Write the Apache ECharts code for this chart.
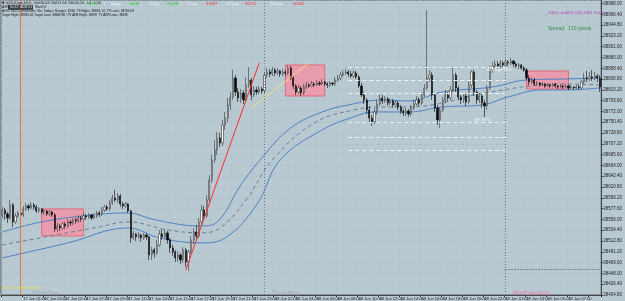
<!DOCTYPE html>
<html>
<head>
<meta charset="UTF-8">
<title>US30Cash,M15</title>
<script src="https://cdn.jsdelivr.net/npm/echarts@6/dist/echarts.min.js"></script>
<style>
    body{margin:0;padding:0;background:#b9c9d2;}
    #main{width:625px;height:301px;}
</style>
</head>
<body>
<div id="main"></div>
<script>
// M15 candles, 14 Jun 22:00 -> 19 Jun morning
var opens = [
38565,38575,38567,38559,38585,38551,38563,38569,38565,38577,
38583,38579,38585,38581,38573,38577,38571,38573,38567,38571,
38565,38537,38543,38539,38547,38543,38551,38549,38555,38553,
38559,38557,38563,38561,38565,38559,38563,38569,38567,38575,
38581,38577,38589,38599,38595,38603,38587,38583,38587,38573,
38519,38527,38521,38525,38519,38525,38521,38485,38495,38489,
38505,38527,38521,38529,38515,38499,38491,38479,38485,38475,
38495,38471,38491,38515,38531,38523,38551,38575,38563,38595,
38635,38675,38695,38719,38709,38745,38759,38785,38801,38839,
38811,38799,38809,38795,38825,38835,38805,38815,38811,38817,
38813,38845,38851,38847,38855,38849,38853,38847,38851,38849,
38859,38839,38823,38811,38819,38809,38821,38825,38823,38827,
38825,38829,38827,38831,38827,38825,38829,38827,38835,38839,
38845,38849,38851,38847,38843,38849,38841,38823,38805,38795,
38775,38759,38751,38771,38787,38799,38793,38797,38789,38793,
38785,38789,38781,38773,38769,38773,38767,38779,38787,38795,
38789,38805,38819,38839,38845,38805,38779,38755,38775,38795,
38805,38799,38815,38845,38819,38801,38795,38803,38791,38825,
38851,38811,38795,38803,38789,38783,38819,38855,38863,38867,
38863,38869,38865,38871,38869,38873,38867,38863,38865,38859,
38855,38839,38831,38835,38827,38829,38825,38827,38823,38825,
38823,38827,38823,38821,38823,38821,38823,38819,38821,38819,
38821,38819,38831,38839,38837,38841,38839,38843,38839
];
var closes = [
38575,38567,38559,38585,38551,38563,38569,38565,38577,38583,
38579,38585,38581,38573,38577,38571,38573,38567,38571,38565,
38537,38543,38539,38547,38543,38551,38549,38555,38553,38559,
38557,38563,38561,38565,38559,38563,38569,38567,38575,38581,
38577,38589,38599,38595,38603,38587,38583,38587,38573,38519,
38527,38521,38525,38519,38525,38521,38485,38495,38489,38505,
38527,38521,38529,38515,38499,38491,38479,38485,38475,38495,
38471,38491,38515,38531,38523,38551,38575,38563,38595,38635,
38675,38695,38719,38709,38745,38759,38785,38801,38839,38811,
38799,38809,38795,38825,38835,38805,38815,38811,38817,38813,
38845,38851,38847,38855,38849,38853,38847,38851,38849,38859,
38839,38823,38811,38819,38809,38821,38825,38823,38827,38825,
38829,38827,38831,38827,38825,38829,38827,38835,38839,38845,
38849,38851,38847,38843,38849,38841,38823,38805,38795,38775,
38759,38751,38771,38787,38799,38793,38797,38789,38793,38785,
38789,38781,38773,38769,38773,38767,38779,38787,38795,38789,
38805,38819,38839,38845,38805,38779,38755,38775,38795,38805,
38799,38815,38845,38819,38801,38795,38803,38791,38825,38851,
38811,38795,38803,38789,38783,38819,38855,38863,38867,38863,
38869,38865,38871,38869,38873,38867,38863,38865,38859,38855,
38839,38831,38835,38827,38829,38825,38827,38823,38825,38823,
38827,38823,38821,38823,38821,38823,38819,38821,38819,38821,
38819,38831,38839,38837,38841,38839,38843,38839,38821
];
var lows = [
38559,38555,38549,38555,38541,38547,38559,38557,38561,38573,
38573,38577,38575,38569,38569,38567,38565,38563,38563,38561,
38531,38531,38533,38535,38537,38539,38543,38545,38547,38549,
38551,38553,38555,38557,38555,38557,38559,38561,38563,38571,
38573,38573,38585,38591,38589,38581,38577,38579,38569,38509,
38515,38513,38517,38511,38515,38515,38475,38475,38479,38485,
38501,38515,38517,38507,38489,38483,38471,38471,38467,38469,
38461,38453,38487,38507,38515,38519,38545,38555,38559,38589,
38629,38669,38685,38701,38703,38735,38751,38775,38795,38803,
38791,38789,38787,38789,38819,38795,38801,38805,38807,38807,
38809,38839,38841,38843,38843,38845,38841,38843,38843,38845,
38835,38817,38805,38807,38803,38805,38817,38819,38821,38821,
38823,38823,38825,38823,38819,38821,38823,38823,38831,38835,
38841,38845,38841,38839,38839,38837,38819,38801,38787,38767,
38751,38743,38747,38765,38783,38787,38789,38783,38785,38779,
38781,38775,38767,38763,38763,38761,38763,38775,38783,38783,
38785,38801,38815,38831,38795,38771,38745,38739,38771,38789,
38793,38795,38811,38811,38795,38787,38789,38783,38787,38819,
38803,38787,38789,38779,38761,38775,38815,38849,38859,38857,
38859,38859,38861,38863,38865,38861,38859,38857,38855,38851,
38835,38825,38827,38823,38823,38821,38823,38819,38821,38819,
38821,38819,38817,38819,38817,38819,38815,38817,38815,38817,
38815,38817,38827,38831,38833,38833,38835,38831,38811
];
var highs = [
38581,38579,38571,38595,38589,38569,38573,38571,38583,38589,
38587,38591,38589,38585,38581,38579,38577,38575,38575,38573,
38569,38549,38547,38551,38551,38557,38555,38559,38559,38565,
38563,38569,38567,38569,38567,38569,38573,38573,38581,38585,
38585,38595,38605,38615,38609,38607,38591,38591,38589,38575,
38533,38529,38531,38527,38529,38529,38523,38501,38499,38515,
38535,38535,38537,38533,38519,38505,38495,38493,38489,38501,
38499,38495,38523,38539,38545,38559,38585,38583,38605,38645,
38685,38715,38731,38729,38755,38771,38799,38811,38855,38845,
38819,38817,38815,38841,38861,38839,38823,38821,38823,38821,
38851,38859,38857,38861,38859,38859,38855,38857,38855,38865,
38863,38843,38827,38825,38823,38827,38831,38829,38833,38831,
38835,38833,38837,38833,38831,38833,38831,38841,38845,38851,
38855,38857,38855,38853,38855,38853,38845,38829,38811,38799,
38783,38765,38779,38795,38809,38805,38803,38801,38799,38797,
38795,38793,38785,38777,38779,38777,38785,38795,38803,38801,
38811,38827,38975,38855,38851,38809,38785,38781,38801,38815,
38811,38823,38859,38849,38823,38805,38809,38807,38835,38855,
38855,38815,38809,38807,38795,38825,38863,38871,38875,38873,
38875,38873,38877,38875,38879,38875,38871,38869,38867,38863,
38859,38845,38841,38839,38833,38831,38831,38829,38829,38827,
38829,38829,38825,38827,38825,38827,38825,38825,38823,38825,
38825,38835,38849,38853,38851,38855,38851,38847,38845
];

// envelope lines, read at [bar index, price]
var bandUpper = [[0,38531],[15,38551],[31,38563],[48,38569],[57,38557],[69,38545],[76,38543],[82,38551],
    [91,38625],[99,38679],[110,38739],[122,38771],[132,38785],[145,38795],[155,38793],[168,38811],
    [187,38821],[200,38835],[214,38837],[228,38839]];
var bandMid = [[0,38505],[37,38541],[48,38551],[63,38535],[76,38529],[83,38539],[93,38595],[103,38675],
    [119,38749],[134,38775],[145,38781],[155,38781],[186,38811],[214,38827],[228,38825]];
var bandLower = [[0,38479],[25,38509],[48,38539],[60,38519],[76,38509],[85,38519],[97,38585],[106,38675],
    [122,38735],[134,38761],[142,38771],[155,38771],[168,38781],[183,38785],[193,38801],[206,38815],
    [214,38815],[228,38819]];

var trendRed = [[70,38455],[98,38869]];
var trendYellow = [[95,38779],[117,38869]];
var boxes = [[15,31,38577,38523],[108,123,38865,38803],[200,216,38853,38817]];
var levels = [38861,38835,38809,38751,38721,38695];
var daySeps = [100,192];
var weekSep = 7;
var lowLine = 38457;

// time categories (15 min bars, session 01:00-24:00)
var times = [];
function hhmm(m){
    var h = Math.floor(m/60), mm = m%60;
    return (h<10?'0':'')+h+':'+(mm<10?'0':'')+mm;
}
for (var m = 22*60; m < 24*60; m += 15) times.push('14 Jun ' + hhmm(m));
[17,18,19].forEach(function(d){
    for (var m = 60; m < 24*60 && times.length < opens.length; m += 15) times.push(d + ' Jun ' + hhmm(m));
});

var candles = [];
for (var i = 0; i < opens.length; i++) candles.push([opens[i], closes[i], lows[i], highs[i]]);

var FONT = 'Liberation Sans';
function txt(x, y, s, color, size, family){
    return {type:'text', x:x, y:y, silent:true, z:100,
        style:{text:s, fill:color, fontSize:size, fontFamily:family||FONT}};
}

var chart = echarts.init(document.getElementById('main'));
var option = {
    backgroundColor: '#b9c9d2',
    animation: false,
    grid: {left:1, right:22, top:0, bottom:6, show:true, borderColor:'#3a3a3a', borderWidth:0.8},
    xAxis: {
        type:'category', data:times, boundaryGap:true,
        axisLine:{show:true, lineStyle:{color:'#333', width:0.8}},
        axisTick:{show:true, length:2, interval:7, lineStyle:{color:'#333'}},
        axisLabel:{
            fontSize:4, fontFamily:FONT, color:'#222', margin:1.5, align:'left',
            interval:7,
            formatter:function(v, idx){ return idx === 0 ? '14 Jun 2024' : v; }
        },
        splitLine:{show:true, interval:7, lineStyle:{color:'#a6b7c1', type:[1,2], width:0.8}}
    },
    yAxis: {
        type:'value', position:'right', min:38404.8, max:38995, interval:21.6, scale:true,
        axisLine:{show:true, lineStyle:{color:'#333', width:0.8}},
        axisTick:{show:true, length:2, lineStyle:{color:'#333'}},
        axisLabel:{
            fontSize:4.5, fontFamily:FONT, color:'#222', margin:2, showMaxLabel:false,
            formatter:function(v){ return v.toFixed(2); }
        },
        splitLine:{show:true, lineStyle:{color:'#a6b7c1', type:[1,2], width:0.8}}
    },
    series: [
        {
            name:'upper', type:'line', data:bandUpper, smooth:0.4, symbol:'none', z:2,
            lineStyle:{color:'#4f82c4', width:1}
        },
        {
            name:'mid', type:'line', data:bandMid, smooth:0.4, symbol:'none', z:2,
            lineStyle:{color:'#6b7f99', width:1, type:[4,3]}
        },
        {
            name:'lower', type:'line', data:bandLower, smooth:0.4, symbol:'none', z:2,
            lineStyle:{color:'#4f82c4', width:1}
        },
        {
            name:'US30Cash', type:'candlestick', data:candles, barWidth:1.7, z:3,
            itemStyle:{color:'#f6f6f6', color0:'#0a0a0a', borderColor:'#3a3a3a', borderColor0:'#0a0a0a', borderWidth:0.6},
            markArea:{
                silent:true,
                itemStyle:{color:'rgba(250,140,160,0.75)', borderColor:'#e06a78', borderWidth:1},
                data: boxes.map(function(b){ return [{xAxis:b[0], yAxis:b[2]}, {xAxis:b[1], yAxis:b[3]}]; })
            },
            markLine:{
                silent:true, symbol:'none', animation:false,
                data: []
                    .concat(levels.map(function(p){
                        return [{coord:[132,p], lineStyle:{color:'#eef3f6', width:1, type:[4,3]}}, {coord:[193,p]}];
                    }))
                    .concat(daySeps.map(function(d){
                        return {xAxis:d, lineStyle:{color:'#5a6770', width:0.8, type:[1,2]}};
                    }))
                    .concat([
                        {xAxis:weekSep, lineStyle:{color:'#e07a3c', width:1, type:'solid'}},
                        [{coord:[192,lowLine], lineStyle:{color:'#3a4650', width:1, type:[1,2]}}, {coord:[228,lowLine]}],
                        {yAxis:closes[closes.length-1], lineStyle:{opacity:0},
                         label:{show:true, position:'end', distance:1, formatter:function(){ return closes[closes.length-1].toFixed(2); },
                                backgroundColor:'#111', color:'#fff', fontSize:4.5, fontFamily:FONT, padding:[1,1,1,1]}}
                    ]),
                label:{show:false}
            }
        },
        {
            name:'trend', type:'line', data:trendRed, symbol:'none', z:4,
            lineStyle:{color:'#ff2a2a', width:1}
        },
        {
            name:'trend2', type:'line', data:trendYellow, symbol:'none', z:4,
            lineStyle:{color:'#e9e27a', width:1}
        }
    ],
    graphic: [
        txt(2, 1.6, '\u25BC US30Cash,M15  38830.45 38837.85 38826.20  +4  1:30', '#111', 3.4, 'DejaVu Sans'),
        txt(86, 1.5, '78.7%', '#1fd21f', 4),
        txt(104, 1.5, '|', '#eef', 4),
        txt(110, 1.5, 'Today', '#f2f4f6', 4),
        txt(130, 1.5, '6438', '#1fd21f', 4),
        txt(141, 1.5, '|', '#eef', 4),
        txt(148, 1.5, '1 Day', '#f2f4f6', 4),
        txt(167, 1.5, '21478', '#1fd21f', 4),
        txt(181, 1.5, '|', '#eef', 4),
        txt(187, 1.5, '5 Day', '#f2f4f6', 4),
        txt(206, 1.5, '37087', '#ff2f2f', 4),
        txt(222, 1.5, '|', '#eef', 4),
        txt(226, 1.5, '10 Day', '#f2f4f6', 4),
        txt(245, 1.5, '35751', '#ff2f2f', 4),
        txt(270, 1.5, '20 Day', '#f2f4f6', 4),
        txt(293, 1.5, '40335', '#ff2f2f', 4),
        {type:'rect', z:99, silent:true, shape:{x:8, y:4.8, width:25, height:5}, style:{fill:'#3d4448'}},
        txt(2, 5.4, 'ASR', '#111', 3.4),
        txt(10, 5.4, '5x 12  ADR 01', '#f0f0f0', 3.4),
        txt(35, 5.4, 'Wait 01', '#111', 3.4),
        txt(2, 9.4, 'ADR: 18/25 | Stochastic: No, Today\'s Ranges: 6336, TS Highs: 38834.13, TS Lows: 38765.63', '#111', 3.2),
        txt(2, 13.4, 'Target Highs: 38938.24, Target Lows: 38668.88 | TV ADR Highs: 38878  TV ADR Lows: 38498', '#111', 3),
        txt(548, 10.8, '200% of ATR (14) 3341 Points', '#b23ebd', 4.3),
        txt(548, 26.5, 'Spread:  170 points.', '#2f8f3c', 5),
        txt(487, 68.5, 'ADR High 38862', '#eef3f6', 3.4),
        txt(474, 118.2, 'TAR 38751', '#eef3f6', 3.4),
        txt(3, 286.5, 'M15 Trend Meter: Bullish', '#e8dc3c', 3.4),
        txt(32, 289.5, 'Monday', '#9aa7ae', 6.5, 'DejaVu Serif'),
        txt(272, 289.5, 'Tuesday', '#9aa7ae', 6.5, 'DejaVu Serif'),
        txt(513, 289.5, 'Wednesday', '#e47aa6', 6.5, 'DejaVu Serif')
    ]
};
chart.setOption(option);
</script>
</body>
</html>
